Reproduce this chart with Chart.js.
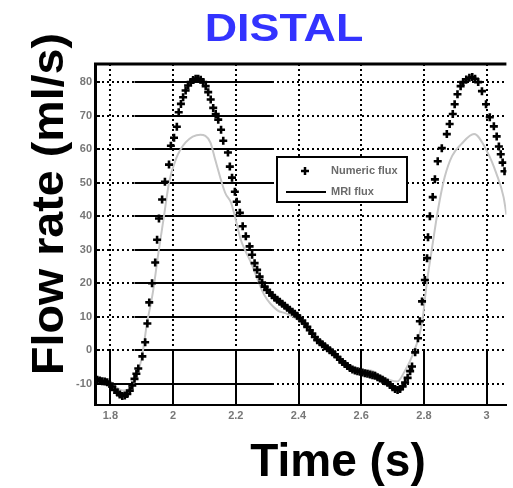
<!DOCTYPE html>
<html>
<head>
<meta charset="utf-8">
<script src="https://cdn.jsdelivr.net/npm/chart.js@4.4.1/dist/chart.umd.min.js"></script>
<style>
  html, body { margin: 0; padding: 0; background: #fff; }
  #wrap { width: 513px; height: 488px; }
</style>
</head>
<body>
<div id="wrap"><canvas id="flowChart" width="513" height="488"></canvas></div>
<script>
/* ─── data ────────────────────────────────────────────────── */
const X_TICKS  = [1.8, 2, 2.2, 2.4, 2.6, 2.8, 3];
const X_LABELS = ['1.8', '2', '2.2', '2.4', '2.6', '2.8', '3'];
const Y_TICKS  = [-10, 0, 10, 20, 30, 40, 50, 60, 70, 80];
const Y_LABELS = ['-10', '0', '10', '20', '30', '40', '50', '60', '70', '80'];

// numeric flux (+ markers)
const NUM_T = [
  1.751, 1.758, 1.766, 1.774, 1.782, 1.790, 1.798, 1.806, 1.814, 1.822, 1.830, 1.838, 1.846, 1.854, 1.862, 1.870, 1.877, 1.883,
  1.889, 1.902, 1.911, 1.918, 1.924, 1.933, 1.943, 1.949, 1.955, 1.965, 1.974, 1.987, 1.993, 2.003, 2.012, 2.018,
  2.025, 2.032, 2.040, 2.048, 2.056, 2.064, 2.072, 2.080, 2.088, 2.096, 2.104, 2.112, 2.120, 2.128, 2.136, 2.144,
  2.153, 2.160, 2.175, 2.181, 2.188, 2.197, 2.203, 2.213, 2.222, 2.232, 2.244,
  2.252, 2.260, 2.268, 2.276, 2.284, 2.292, 2.300, 2.308, 2.316, 2.324, 2.332, 2.340, 2.348, 2.356, 2.364, 2.372,
  2.380, 2.388, 2.396, 2.404, 2.412, 2.420, 2.428, 2.436, 2.444, 2.452, 2.460, 2.468, 2.476, 2.484, 2.492, 2.500,
  2.508, 2.516, 2.524, 2.532, 2.540, 2.548, 2.556, 2.564, 2.572, 2.580, 2.588, 2.596, 2.604, 2.612, 2.620, 2.628,
  2.636, 2.644, 2.652, 2.660, 2.668, 2.676, 2.684, 2.692, 2.700, 2.708, 2.716, 2.724, 2.732, 2.740, 2.748,
  2.756, 2.762, 2.772, 2.781, 2.787, 2.794, 2.803, 2.810, 2.813, 2.819, 2.828, 2.835, 2.844, 2.857, 2.873, 2.882,
  2.892, 2.898, 2.907, 2.917, 2.925, 2.935, 2.945, 2.954, 2.963, 2.973, 2.985, 2.998, 3.010, 3.023, 3.032, 3.039,
  3.045, 3.051, 3.057
];
const NUM_V = [
  -8.5, -8.8, -9, -9.2, -9.3, -9.5, -10, -10.8, -11.8, -12.6, -13.2, -13.6, -13.5, -13, -12, -10.5, -8.5, -7,
  -5.4, -1.8, 2.4, 8, 14.3, 20, 26.2, 33, 39.3, 45, 50.3, 55.4, 61, 63.4, 66.7, 71,
  73.5, 75.5, 77.5, 79, 80, 80.6, 81, 81, 80.7, 80, 78.8, 77, 74.8, 72.3, 70.5, 68.8,
  65.8, 62.5, 59, 54.8, 51.5, 47.3, 44.3, 41, 37, 34, 31,
  28.5, 26, 24, 22, 20.2, 19, 18, 17.2, 16.4, 15.7, 15.1, 14.5, 13.9, 13.3, 12.7, 12.1,
  11.5, 10.9, 10.3, 9.6, 8.8, 8, 7, 6, 5, 4, 3, 2.4, 1.8, 1.2, 0.6, 0,
  -0.6, -1.2, -2, -2.8, -3.5, -4.1, -4.7, -5.3, -5.7, -6, -6.2, -6.4, -6.6, -6.8, -7, -7.2,
  -7.4, -7.6, -8, -8.4, -8.8, -9.2, -9.7, -10.3, -11, -11.5, -11.8, -11.5, -10.8, -9.6, -8.2,
  -6.2, -4.8, -0.6, 3.6, 8.7, 14.6, 21, 27.5, 33.7, 40, 45.7, 51, 56.4, 60.3, 64.5, 67.5,
  70.5, 73.4, 76.4, 78.8, 80, 80.8, 81.3, 81.5, 81, 80, 77.3, 73.4, 69.5, 66.8, 63.8, 60.8,
  58.5, 56, 53.4
];

// MRI flux (grey line)
const MRI_T = [
  1.751, 1.780, 1.810, 1.840, 1.860, 1.875, 1.886, 1.899, 1.908, 1.917, 1.930, 1.940, 1.950, 1.971, 1.987, 2.009,
  2.040, 2.087, 2.119, 2.134, 2.166, 2.185, 2.197, 2.216, 2.229, 2.247, 2.291, 2.332, 2.360, 2.400, 2.450, 2.500,
  2.550, 2.600, 2.630, 2.660, 2.690, 2.715, 2.740, 2.762, 2.794, 2.809, 2.825, 2.845, 2.866, 2.890, 2.919, 2.960,
  3.001, 3.032, 3.054, 3.063
];
const MRI_V = [
  -9, -9.5, -10.5, -12, -11.5, -9.5, -7, -2.7, 2.4, 8.3, 14.3, 20, 27, 40, 50, 57,
  62, 64.3, 62, 57, 47, 44, 40, 33, 30, 26.5, 16.5, 12, 11, 9, 4, -0.5,
  -4.5, -6, -6, -7.5, -8.8, -9.3, -6, -1.8, 8.3, 20, 30, 42, 51.6, 58, 61.5, 64.5,
  59.4, 52.5, 45.7, 40.5
];

const LEGEND = ['Numeric flux', 'MRI flux'];

/* ─── extra drawing: solid grid pieces, titles, legend ───── */
const paperPlugin = {
  id: 'paper',
  beforeDatasetsDraw(chart) {
    const { ctx, chartArea: a, scales: { x, y } } = chart;
    ctx.save();
    ctx.strokeStyle = '#000';
    ctx.lineWidth = 2;
    ctx.beginPath();
    // horizontal lines are solid over part of the plot
    Y_TICKS.forEach((v, i) => {
      const py = Math.round(y.getPixelForValue(v));
      const x0 = i === 0 ? a.left : x.getPixelForValue(1.877);
      ctx.moveTo(x0, py);
      ctx.lineTo(x.getPixelForValue(2.32), py);
      ctx.moveTo(a.left, py);
      ctx.lineTo(a.left + 5, py);
    });
    // vertical lines are solid below zero
    const y0 = y.getPixelForValue(0);
    X_TICKS.forEach(t => {
      const px = Math.round(x.getPixelForValue(t));
      ctx.moveTo(px, y0);
      ctx.lineTo(px, a.bottom);
    });
    ctx.stroke();
    ctx.lineWidth = 3;
    ctx.beginPath();
    ctx.moveTo(a.left - 1, a.top);
    ctx.lineTo(a.right, a.top);
    ctx.stroke();
    ctx.restore();
  },
  afterDraw(chart) {
    const { ctx, chartArea: a } = chart;
    ctx.save();

    // title
    ctx.fillStyle = '#3333ff';
    ctx.font = 'bold 38px "Liberation Sans", Arial, sans-serif';
    ctx.textAlign = 'center';
    ctx.textBaseline = 'alphabetic';
    ctx.save();
    ctx.translate(284, 41);
    ctx.scale(1.18, 1);
    ctx.fillText('DISTAL', 0, 0);
    ctx.restore();

    // axis titles
    ctx.fillStyle = '#000';
    ctx.font = 'bold 44px "Liberation Sans", Arial, sans-serif';
    ctx.save();
    ctx.translate(63, 204);
    ctx.rotate(-Math.PI / 2);
    ctx.scale(1.06, 1);
    ctx.fillText('Flow rate (ml/s)', 0, 0);
    ctx.restore();

    ctx.font = 'bold 46px "Liberation Sans", Arial, sans-serif';
    ctx.fillText('Time (s)', 338, 476);

    // legend box
    const bx = a.left + 182, by = a.top + 93, bw = 130, bh = 45;
    ctx.fillStyle = '#fff';
    ctx.fillRect(bx, by, bw, bh);
    ctx.strokeStyle = '#000';
    ctx.lineWidth = 2;
    ctx.strokeRect(bx, by, bw, bh);
    // + marker
    ctx.lineWidth = 2.5;
    ctx.beginPath();
    ctx.moveTo(bx + 24, by + 14); ctx.lineTo(bx + 32, by + 14);
    ctx.moveTo(bx + 28, by + 10); ctx.lineTo(bx + 28, by + 18);
    ctx.stroke();
    // line sample
    ctx.lineWidth = 2;
    ctx.beginPath();
    ctx.moveTo(bx + 9, by + 35); ctx.lineTo(bx + 49, by + 35);
    ctx.stroke();
    ctx.fillStyle = '#6a6a6a';
    ctx.font = 'bold 11px "Liberation Sans", Arial, sans-serif';
    ctx.textAlign = 'left';
    ctx.textBaseline = 'middle';
    ctx.fillText(LEGEND[0], bx + 54, by + 14);
    ctx.fillText(LEGEND[1], bx + 54, by + 35);
    ctx.restore();
  }
};

Chart.defaults.font.family = '"Liberation Sans", Arial, sans-serif';

new Chart(document.getElementById('flowChart'), {
  type: 'scatter',
  data: {
    datasets: [
      {
        label: LEGEND[0],
        data: NUM_T.map((t, i) => ({ x: t, y: NUM_V[i] })),
        pointStyle: 'cross', pointRadius: 4, pointBorderWidth: 2.6,
        borderColor: '#000', backgroundColor: '#000',
        showLine: false, order: 0,
      },
      {
        label: LEGEND[1],
        data: MRI_T.map((t, i) => ({ x: t, y: MRI_V[i] })),
        showLine: true, pointRadius: 0, borderWidth: 2,
        borderColor: '#c6c6c6', cubicInterpolationMode: 'monotone',
        order: 1,
      },
    ],
  },
  options: {
    responsive: false, animation: false,
    layout: { padding: { top: 64, right: 0, left: 0, bottom: 0 } },
    plugins: { legend: { display: false }, tooltip: { enabled: false } },
    scales: {
      x: {
        type: 'linear', min: 1.751, max: 3.063,
        afterBuildTicks: s => { s.ticks = X_TICKS.map(v => ({ value: v })); },
        afterFit: s => { s.height = 83; },
        ticks: {
          callback: (v, i) => X_LABELS[i], padding: 4,
          color: '#777', font: { size: 11, weight: 'bold' }, maxRotation: 0,
        },
        grid: { color: '#000', lineWidth: 2, drawTicks: false },
        border: { color: '#000', width: 2, dash: [2, 3] },
      },
      y: {
        type: 'linear', min: -16.3, max: 85.4,
        afterBuildTicks: s => { s.ticks = Y_TICKS.map(v => ({ value: v })); },
        afterFit: s => { s.width = 95; },
        ticks: {
          callback: (v, i) => Y_LABELS[i], padding: 3,
          color: '#777', font: { size: 11, weight: 'bold' },
        },
        grid: { color: '#000', lineWidth: 2, drawTicks: false },
        border: { color: '#000', width: 3, dash: [2, 3] },
      },
    },
  },
  plugins: [paperPlugin],
});
</script>
</body>
</html>
